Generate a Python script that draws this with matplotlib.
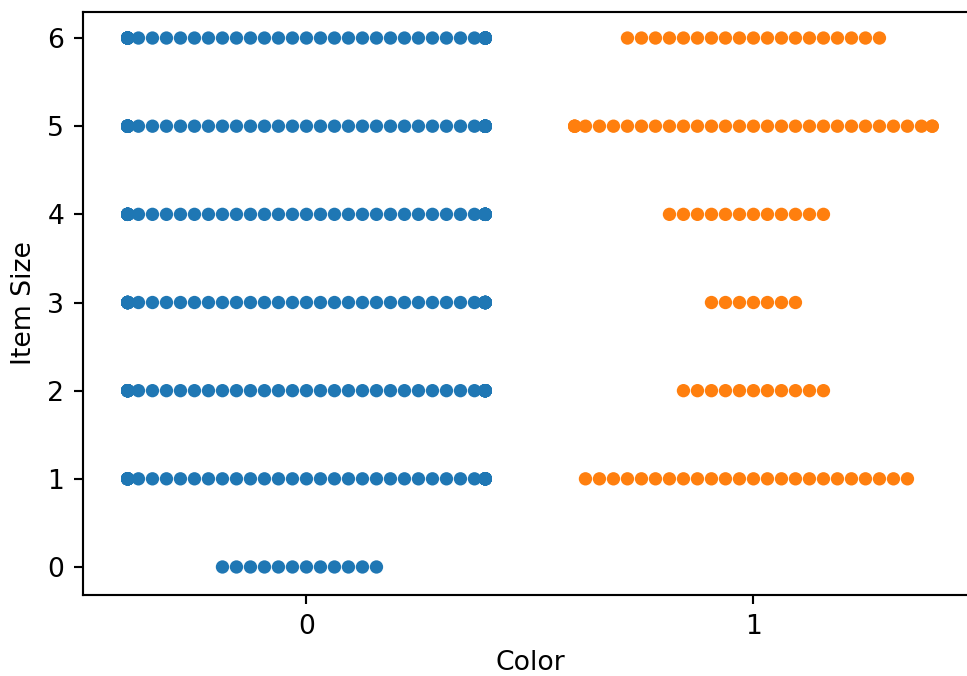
import numpy as np
import pandas as pd
import matplotlib
matplotlib.use("Agg")
import matplotlib.pyplot as plt
import seaborn as sns
import warnings

warnings.filterwarnings("ignore")

# counts of items per size, for each color group
sizes = [0, 1, 2, 3, 4, 5, 6]
counts_color0 = [12, 45, 48, 52, 50, 55, 50]
counts_color1 = [0, 24, 11, 7, 12, 30, 19]

rows = []
for s, n in zip(sizes, counts_color0):
    rows += [(0, s)] * n
for s, n in zip(sizes, counts_color1):
    rows += [(1, s)] * n
df = pd.DataFrame(rows, columns=["Color", "Item Size"])

dpi = 192
fig = plt.figure(figsize=(967 / dpi, 676 / dpi), dpi=dpi)
ax = fig.add_axes([0.0858, 0.1198, 0.9245, 0.8624])

sns.swarmplot(data=df, x="Color", y="Item Size", hue="Color",
              palette=["#1f77b4", "#ff7f0e"], size=5,
              legend=False, ax=ax)

ax.set_xlim(-0.5, 1.5)
ax.set_ylim(-0.318, 6.295)

fig.savefig("out.png", dpi=dpi)
